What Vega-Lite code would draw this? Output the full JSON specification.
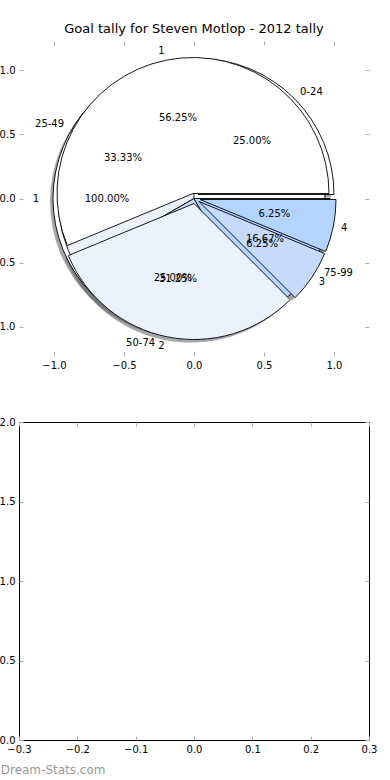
{
  "$schema": "https://vega.github.io/schema/vega-lite/v6.json",
  "padding": {"left": -10, "top": 22, "right": 0, "bottom": 0},
  "background": "white",
  "config": {
    "font": "DejaVu Sans",
    "view": {"stroke": null},
    "axis": {"labelFont": "DejaVu Sans", "labelFontSize": 10, "labelColor": "black", "tickColor": "#aaaaaa", "tickSize": -4, "tickWidth": 1, "labelPadding": 8, "domain": false, "grid": false, "labelFlush": false, "labelOverlap": false, "format": ".1f"},
    "title": {"font": "DejaVu Sans"}
  },
  "datasets": {
    "pieC": [{"label": "1", "goals": 1, "pct": "100.00%"}],
    "pieA": [
      {"label": "0-24", "goals": 3, "pct": "25.00%"},
      {"label": "25-49", "goals": 4, "pct": "33.33%"},
      {"label": "50-74", "goals": 3, "pct": "25.00%"},
      {"label": "75-99", "goals": 2, "pct": "16.67%"}
    ],
    "pieB": [
      {"label": "1", "goals": 9, "pct": "56.25%"},
      {"label": "2", "goals": 5, "pct": "31.25%"},
      {"label": "3", "goals": 1, "pct": "6.25%"},
      {"label": "4", "goals": 1, "pct": "6.25%"}
    ],
    "frame": [{}]
  },
  "title": {"text": "Dream-Stats.com", "orient": "bottom", "anchor": "start", "color": "#999999", "fontSize": 12, "fontWeight": "normal", "offset": 10, "dx": 10},
  "spacing": 46,
  "vconcat": [
    {
      "width": 350,
      "height": 315,
      "title": {"text": "Goal tally for Steven Motlop - 2012 tally", "fontSize": 13, "fontWeight": "normal", "offset": 5, "color": "black"},
      "resolve": {"axis": {"x": "independent", "y": "independent"}},
      "layer": [
        {
          "data": {"name": "frame"},
          "mark": {"type": "point", "opacity": 0},
          "encoding": {
            "x": {"datum": 0, "type": "quantitative", "scale": {"domain": [-1.25, 1.25], "nice": false, "zero": false}, "axis": {"orient": "bottom", "values": [-1, -0.5, 0, 0.5, 1], "title": null}},
            "y": {"datum": 0, "type": "quantitative", "scale": {"domain": [-1.23, 1.23], "nice": false, "zero": false}, "axis": {"orient": "left", "values": [-1, -0.5, 0, 0.5, 1], "title": null}}
          }
        },
        {
          "data": {"name": "frame"},
          "mark": {"type": "point", "opacity": 0},
          "encoding": {
            "x": {"datum": 0, "type": "quantitative", "axis": {"orient": "top", "values": [-1, -0.5, 0, 0.5, 1], "labels": false, "title": null}},
            "y": {"datum": 0, "type": "quantitative", "axis": {"orient": "right", "values": [-1, -0.5, 0, 0.5, 1], "labels": false, "title": null}}
          }
        },
        {
          "data": {"name": "pieC"},
          "transform": [{"stack": "goals", "groupby": [], "sort": [{"field": "label", "order": "ascending"}], "offset": "normalize", "as": ["t0", "t1"]}],
          "mark": {"type": "arc", "outerRadius": 136, "xOffset": -8, "yOffset": 3, "fill": "#4d4d4d", "opacity": 0.5},
          "encoding": {"theta": {"field": "t0", "type": "quantitative", "stack": null, "scale": {"domain": [0, 1], "range": [1.5708, -4.7124]}}, "theta2": {"field": "t1"}}
        },
        {
          "data": {"name": "pieA"},
          "transform": [{"stack": "goals", "groupby": [], "sort": [{"field": "label", "order": "ascending"}], "offset": "normalize", "as": ["t0", "t1"]}, {"filter": "datum.label == '0-24'"}],
          "mark": {"type": "arc", "outerRadius": 136, "xOffset": 1, "yOffset": -1, "fill": "#4d4d4d", "opacity": 0.5},
          "encoding": {"theta": {"field": "t0", "type": "quantitative", "stack": null, "scale": {"domain": [0, 1], "range": [1.5708, -4.7124]}}, "theta2": {"field": "t1"}}
        },
        {
          "data": {"name": "pieA"},
          "transform": [{"stack": "goals", "groupby": [], "sort": [{"field": "label", "order": "ascending"}], "offset": "normalize", "as": ["t0", "t1"]}, {"filter": "datum.label != '0-24'"}],
          "mark": {"type": "arc", "outerRadius": 136, "xOffset": -3, "yOffset": 3, "fill": "#4d4d4d", "opacity": 0.5},
          "encoding": {"theta": {"field": "t0", "type": "quantitative", "stack": null, "scale": {"domain": [0, 1], "range": [1.5708, -4.7124]}}, "theta2": {"field": "t1"}}
        },
        {
          "data": {"name": "pieB"},
          "transform": [{"stack": "goals", "groupby": [], "sort": [{"field": "label", "order": "ascending"}], "offset": "normalize", "as": ["t0", "t1"]}, {"filter": "datum.label == '1'"}],
          "mark": {"type": "arc", "outerRadius": 136, "xOffset": -4, "yOffset": -2, "fill": "#4d4d4d", "opacity": 0.5},
          "encoding": {"theta": {"field": "t0", "type": "quantitative", "stack": null, "scale": {"domain": [0, 1], "range": [1.5708, -4.7124]}}, "theta2": {"field": "t1"}}
        },
        {
          "data": {"name": "pieB"},
          "transform": [{"stack": "goals", "groupby": [], "sort": [{"field": "label", "order": "ascending"}], "offset": "normalize", "as": ["t0", "t1"]}, {"filter": "datum.label == '2'"}],
          "mark": {"type": "arc", "outerRadius": 136, "xOffset": -3, "yOffset": 8, "fill": "#4d4d4d", "opacity": 0.5},
          "encoding": {"theta": {"field": "t0", "type": "quantitative", "stack": null, "scale": {"domain": [0, 1], "range": [1.5708, -4.7124]}}, "theta2": {"field": "t1"}}
        },
        {
          "data": {"name": "pieB"},
          "transform": [{"stack": "goals", "groupby": [], "sort": [{"field": "label", "order": "ascending"}], "offset": "normalize", "as": ["t0", "t1"]}, {"filter": "datum.label == '3'"}],
          "mark": {"type": "arc", "outerRadius": 136, "xOffset": 2, "yOffset": 6, "fill": "#4d4d4d", "opacity": 0.5},
          "encoding": {"theta": {"field": "t0", "type": "quantitative", "stack": null, "scale": {"domain": [0, 1], "range": [1.5708, -4.7124]}}, "theta2": {"field": "t1"}}
        },
        {
          "data": {"name": "pieB"},
          "transform": [{"stack": "goals", "groupby": [], "sort": [{"field": "label", "order": "ascending"}], "offset": "normalize", "as": ["t0", "t1"]}, {"filter": "datum.label == '4'"}],
          "mark": {"type": "arc", "outerRadius": 136, "xOffset": 3, "yOffset": 4, "fill": "#4d4d4d", "opacity": 0.5},
          "encoding": {"theta": {"field": "t0", "type": "quantitative", "stack": null, "scale": {"domain": [0, 1], "range": [1.5708, -4.7124]}}, "theta2": {"field": "t1"}}
        },
        {
          "data": {"name": "pieC"},
          "transform": [{"stack": "goals", "groupby": [], "sort": [{"field": "label", "order": "ascending"}], "offset": "normalize", "as": ["t0", "t1"]}],
          "mark": {"type": "arc", "outerRadius": 136, "xOffset": -5, "yOffset": 0, "stroke": "black", "strokeWidth": 0.9},
          "encoding": {"theta": {"field": "t0", "type": "quantitative", "stack": null, "scale": {"domain": [0, 1], "range": [1.5708, -4.7124]}}, "theta2": {"field": "t1"},
            "color": {"field": "label", "type": "nominal", "legend": null, "scale": {"domain": ["1", "2", "3", "4", "0-24", "25-49", "50-74", "75-99"], "range": ["#ffffff", "#ebf2fe", "#c6dafd", "#b3d4fe", "#ffffff", "#ebf2fe", "#c6dafd", "#b3d4fe"]}}}
        },
        {
          "data": {"name": "pieA"},
          "transform": [{"stack": "goals", "groupby": [], "sort": [{"field": "label", "order": "ascending"}], "offset": "normalize", "as": ["t0", "t1"]}, {"filter": "datum.label == '0-24'"}],
          "mark": {"type": "arc", "outerRadius": 136, "xOffset": 4, "yOffset": -4, "stroke": "black", "strokeWidth": 0.9},
          "encoding": {"theta": {"field": "t0", "type": "quantitative", "stack": null, "scale": {"domain": [0, 1], "range": [1.5708, -4.7124]}}, "theta2": {"field": "t1"},
            "color": {"field": "label", "type": "nominal", "legend": null}}
        },
        {
          "data": {"name": "pieA"},
          "transform": [{"stack": "goals", "groupby": [], "sort": [{"field": "label", "order": "ascending"}], "offset": "normalize", "as": ["t0", "t1"]}, {"filter": "datum.label != '0-24'"}],
          "mark": {"type": "arc", "outerRadius": 136, "xOffset": 0, "yOffset": 0, "stroke": "black", "strokeWidth": 0.9},
          "encoding": {"theta": {"field": "t0", "type": "quantitative", "stack": null, "scale": {"domain": [0, 1], "range": [1.5708, -4.7124]}}, "theta2": {"field": "t1"},
            "color": {"field": "label", "type": "nominal", "legend": null}}
        },
        {
          "data": {"name": "pieB"},
          "transform": [{"stack": "goals", "groupby": [], "sort": [{"field": "label", "order": "ascending"}], "offset": "normalize", "as": ["t0", "t1"]}, {"filter": "datum.label == '1'"}],
          "mark": {"type": "arc", "outerRadius": 136, "xOffset": -1, "yOffset": -5, "stroke": "black", "strokeWidth": 0.9},
          "encoding": {"theta": {"field": "t0", "type": "quantitative", "stack": null, "scale": {"domain": [0, 1], "range": [1.5708, -4.7124]}}, "theta2": {"field": "t1"},
            "color": {"field": "label", "type": "nominal", "legend": null}}
        },
        {
          "data": {"name": "pieB"},
          "transform": [{"stack": "goals", "groupby": [], "sort": [{"field": "label", "order": "ascending"}], "offset": "normalize", "as": ["t0", "t1"]}, {"filter": "datum.label == '2'"}],
          "mark": {"type": "arc", "outerRadius": 136, "xOffset": 0, "yOffset": 5, "stroke": "black", "strokeWidth": 0.9},
          "encoding": {"theta": {"field": "t0", "type": "quantitative", "stack": null, "scale": {"domain": [0, 1], "range": [1.5708, -4.7124]}}, "theta2": {"field": "t1"},
            "color": {"field": "label", "type": "nominal", "legend": null}}
        },
        {
          "data": {"name": "pieB"},
          "transform": [{"stack": "goals", "groupby": [], "sort": [{"field": "label", "order": "ascending"}], "offset": "normalize", "as": ["t0", "t1"]}, {"filter": "datum.label == '3'"}],
          "mark": {"type": "arc", "outerRadius": 136, "xOffset": 5, "yOffset": 3, "stroke": "black", "strokeWidth": 0.9},
          "encoding": {"theta": {"field": "t0", "type": "quantitative", "stack": null, "scale": {"domain": [0, 1], "range": [1.5708, -4.7124]}}, "theta2": {"field": "t1"},
            "color": {"field": "label", "type": "nominal", "legend": null}}
        },
        {
          "data": {"name": "pieB"},
          "transform": [{"stack": "goals", "groupby": [], "sort": [{"field": "label", "order": "ascending"}], "offset": "normalize", "as": ["t0", "t1"]}, {"filter": "datum.label == '4'"}],
          "mark": {"type": "arc", "outerRadius": 136, "xOffset": 6, "yOffset": 1, "stroke": "black", "strokeWidth": 0.9},
          "encoding": {"theta": {"field": "t0", "type": "quantitative", "stack": null, "scale": {"domain": [0, 1], "range": [1.5708, -4.7124]}}, "theta2": {"field": "t1"},
            "color": {"field": "label", "type": "nominal", "legend": null}}
        },
        {
          "data": {"name": "pieC"},
          "mark": {"type": "text", "radius": 82, "fontSize": 10, "font": "DejaVu Sans", "color": "black", "dx": -5},
          "encoding": {"theta": {"field": "goals", "type": "quantitative", "stack": "normalize", "scale": {"domain": [0, 1], "range": [1.5708, -4.7124]}}, "order": {"field": "label", "sort": "ascending"}, "detail": {"field": "label"}, "text": {"field": "pct"}}
        },
        {
          "data": {"name": "pieA"},
          "mark": {"type": "text", "radius": 82, "fontSize": 10, "font": "DejaVu Sans", "color": "black"},
          "encoding": {"theta": {"field": "goals", "type": "quantitative", "stack": "normalize", "scale": {"domain": [0, 1], "range": [1.5708, -4.7124]}}, "order": {"field": "label", "sort": "ascending"}, "detail": {"field": "label"}, "text": {"field": "pct"}}
        },
        {
          "data": {"name": "pieB"},
          "mark": {"type": "text", "radius": 82, "fontSize": 10, "font": "DejaVu Sans", "color": "black"},
          "encoding": {"theta": {"field": "goals", "type": "quantitative", "stack": "normalize", "scale": {"domain": [0, 1], "range": [1.5708, -4.7124]}}, "order": {"field": "label", "sort": "ascending"}, "detail": {"field": "label"}, "text": {"field": "pct"}}
        },
        {
          "data": {"name": "pieC"},
          "mark": {"type": "text", "radius": 150, "fontSize": 10, "font": "DejaVu Sans", "color": "black", "dx": -5, "align": {"expr": "indexof(['1','2','25-49','50-74'], datum.label) >= 0 ? 'right' : 'left'"}},
          "encoding": {"theta": {"field": "goals", "type": "quantitative", "stack": "normalize", "scale": {"domain": [0, 1], "range": [1.5708, -4.7124]}}, "order": {"field": "label", "sort": "ascending"}, "detail": {"field": "label"}, "text": {"field": "label"}}
        },
        {
          "data": {"name": "pieA"},
          "mark": {"type": "text", "radius": 150, "fontSize": 10, "font": "DejaVu Sans", "color": "black", "align": {"expr": "indexof(['1','2','25-49','50-74'], datum.label) >= 0 ? 'right' : 'left'"}},
          "encoding": {"theta": {"field": "goals", "type": "quantitative", "stack": "normalize", "scale": {"domain": [0, 1], "range": [1.5708, -4.7124]}}, "order": {"field": "label", "sort": "ascending"}, "detail": {"field": "label"}, "text": {"field": "label"}}
        },
        {
          "data": {"name": "pieB"},
          "mark": {"type": "text", "radius": 150, "fontSize": 10, "font": "DejaVu Sans", "color": "black", "align": {"expr": "indexof(['1','2','25-49','50-74'], datum.label) >= 0 ? 'right' : 'left'"}},
          "encoding": {"theta": {"field": "goals", "type": "quantitative", "stack": "normalize", "scale": {"domain": [0, 1], "range": [1.5708, -4.7124]}}, "order": {"field": "label", "sort": "ascending"}, "detail": {"field": "label"}, "text": {"field": "label"}}
        }
      ]
    },
    {
      "width": 350,
      "height": 318,
      "view": {"stroke": "black", "strokeWidth": 1},
      "resolve": {"axis": {"x": "independent", "y": "independent"}},
      "layer": [
        {
          "data": {"name": "frame"},
          "mark": {"type": "point", "opacity": 0},
          "encoding": {
            "x": {"datum": 0, "type": "quantitative", "scale": {"domain": [-0.3, 0.3], "nice": false, "zero": false}, "axis": {"orient": "bottom", "values": [-0.3, -0.2, -0.1, 0, 0.1, 0.2, 0.3], "title": null}},
            "y": {"datum": 0, "type": "quantitative", "scale": {"domain": [0, 2], "nice": false}, "axis": {"orient": "left", "values": [0, 0.5, 1, 1.5, 2], "title": null}}
          }
        },
        {
          "data": {"name": "frame"},
          "mark": {"type": "point", "opacity": 0},
          "encoding": {
            "x": {"datum": 0, "type": "quantitative", "axis": {"orient": "top", "values": [-0.3, -0.2, -0.1, 0, 0.1, 0.2, 0.3], "labels": false, "title": null}},
            "y": {"datum": 0, "type": "quantitative", "axis": {"orient": "right", "values": [0, 0.5, 1, 1.5, 2], "labels": false, "title": null}}
          }
        }
      ]
    }
  ]
}
